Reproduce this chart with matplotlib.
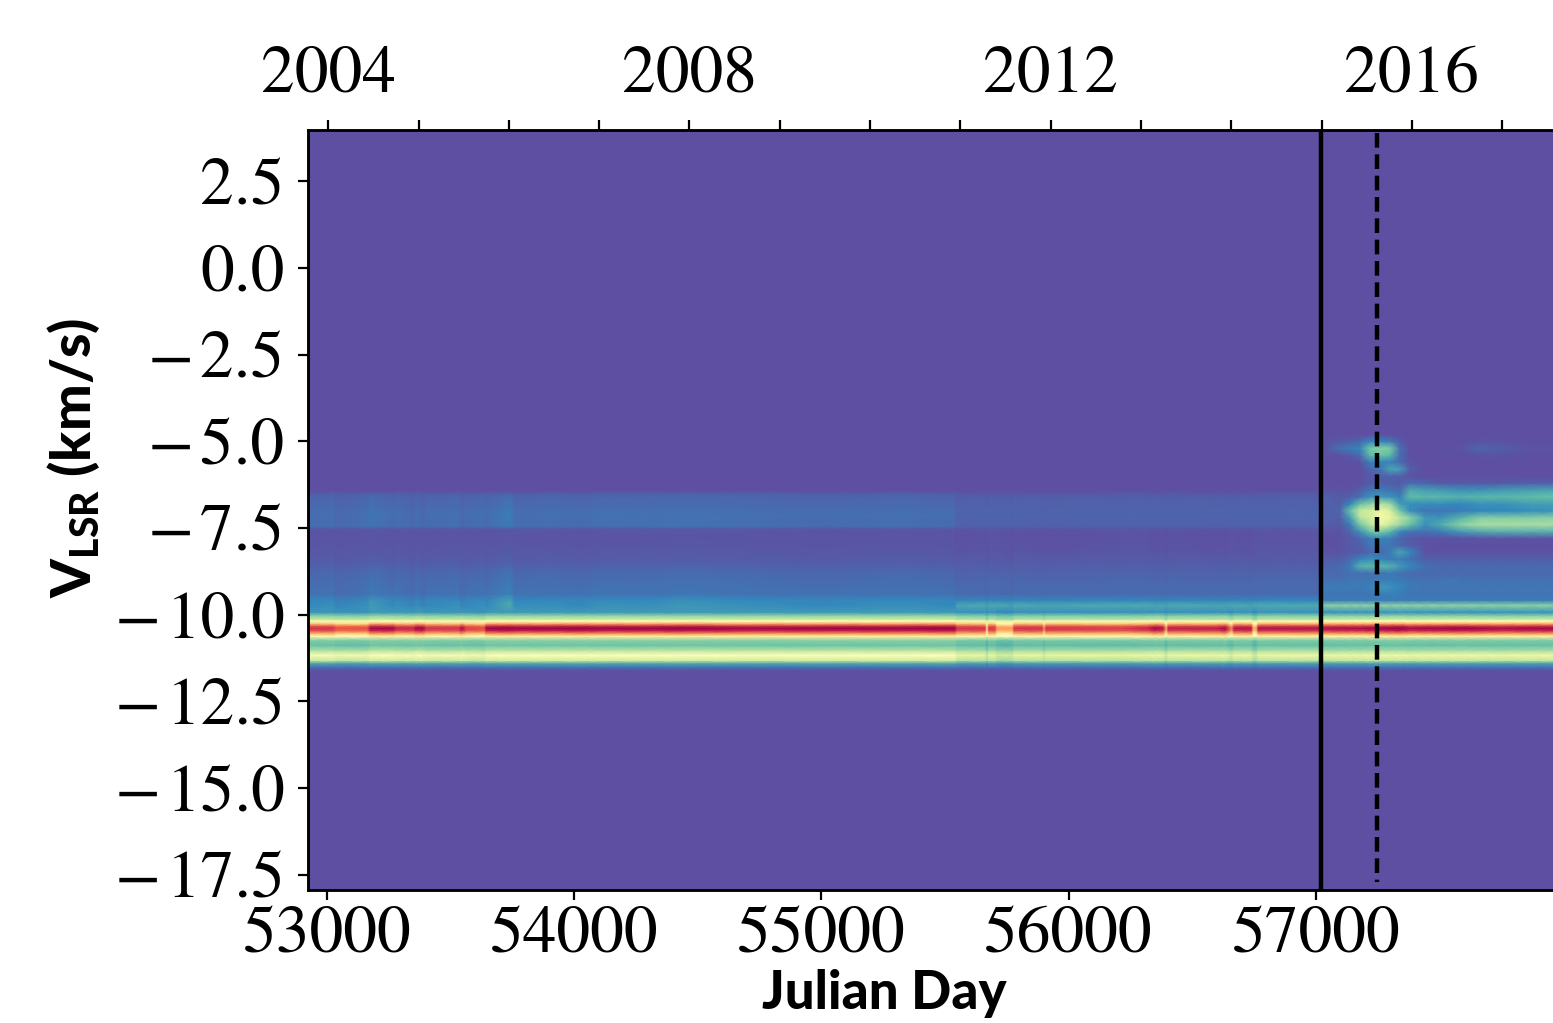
import matplotlib
matplotlib.use("Agg")
import matplotlib.pyplot as plt
import numpy as np

plt.rcParams['font.family'] = ['STIXGeneral', 'Liberation Serif', 'DejaVu Sans']
plt.rcParams['mathtext.fontset'] = 'custom'
plt.rcParams['mathtext.bf'] = 'Lato:black'
plt.rcParams['mathtext.rm'] = 'Lato:black'

# velocity channels (km/s) and the spectrum in the three periods
velocity = [-18.0, -11.62, -11.52, -11.40, -11.32, -11.17, -11.03, -10.88, -10.74, -10.62,
            -10.55, -10.46, -10.39, -10.33, -10.26, -10.18, -10.13, -10.02, -9.93, -9.73, -9.58, -9.4,
            -9.2, -9.0, -8.72, -8.52, -8.14, -7.71, -7.53, -7.45, -7.13, -6.84,
            -6.64, -6.50, -6.41, 4.0]
spec_early = [0, 0, .06, .16, .36, .49, .33, .21, .25, .55,
              .72, .94, .995, .94, .72, .50, .36, .25, .13, .105, .095, .06,
              .055, .05, .04, .025, .015, .01, .015, .05, .055, .045,
              .04, .025, .0, 0]
spec_mid = [0, 0, .06, .15, .33, .44, .31, .20, .24, .55,
            .72, .94, .995, .94, .72, .50, .34, .24, .12, .16, .10, .05,
            .05, .045, .035, .025, .012, .008, .012, .035, .04, .035,
            .03, .02, .0, 0]
spec_late = [0, 0, .06, .15, .34, .44, .30, .20, .24, .55,
             .72, .94, .995, .94, .72, .50, .36, .24, .12, .26, .08, .07,
             .07, .06, .05, .035, .02, .01, .02, .03, .03, .03,
             .03, .02, .0, 0]

# Julian day of each column before the 2015 flare
epochs = [52924, 53025, 53038, 53163, 53176, 53269, 53281, 53350, 53361, 53390,
          53402, 53535, 53544, 53564, 53636, 53645, 53742, 53760, 53900, 54030,
          54100, 54300, 54429, 54700, 55000, 55318, 55540, 55549, 55662, 55670,
          55678, 55703, 55711, 55772, 55780, 55893, 55901, 55909, 56208, 56318,
          56350, 56383, 56395, 56403, 56597, 56634, 56658, 56670, 56739, 56747,
          56759, 56767, 57025]
peak_level = [.90, .90, .84, .84, .97, .97, .92, .92, .97, .97,
              .90, .90, .97, .88, .85, .98, .99, .98, .98, .99,
              .98, .98, .99, .97, .98, .98, .99, .90, .90, .62,
              .90, .88, .72, .72, .90, .90, .74, .90, .88, .92,
              .97, .94, .70, .93, .93, .97, .75, .95, .95, .70,
              .70, .95, .95]
faint_level = [1, 1.1, .9, 1.1, 1.3, 1, 1.1, .9, 1.1, .9,
               1, 1.1, .9, 1, 1.1, 1, 1.5, 1.05, 1.1, 1,
               1.15, 1.1, 1.2, 1.1, 1, 1.1, 1, .95, 1, .9,
               1, 1, 1, .9, 1, .95, 1, .95, 1, 1,
               .95, 1, .95, 1, .95, .95, 1, 1, .95, 1,
               1, 1, 1]

# columns after the flare
late_epochs = [57025, 57097, 57138, 57178, 57219, 57259, 57300, 57340,
               57380, 57441, 57502, 57583, 57664, 57745, 57866, 57960]
late_peak = [.95, .96, .96, .96, .97, .97, .98, .99,
             .96, .97, .97, .98, .97, .96, .97, .97]

flare_velocity = [-9.4, -9.2, -9.0, -8.8, -8.6, -8.4, -8.2, -8.0, -7.8, -7.6, -7.4, -7.2, -7.0,
                  -6.8, -6.6, -6.4, -6.2, -6.0, -5.8, -5.6, -5.4, -5.2, -5.0, -4.8, -4.5]
flare_rows = [
    [.07, .07, .07, .07, .07, .08, .09, .08, .07, .07, .07, .07, .07, .07, .07, .07],
    [.08, .08, .08, .08, .09, .13, .12, .10, .08, .07, .07, .07, .07, .07, .07, .07],
    [.06, .06, .07, .07, .07, .08, .08, .08, .07, .06, .07, .07, .06, .06, .06, .06],
    [.05, .05, .06, .06, .06, .06, .08, .06, .05, .05, .05, .05, .05, .05, .05, .05],
    [.04, .05, .08, .17, .18, .18, .17, .13, .10, .06, .05, .05, .05, .05, .05, .05],
    [.03, .03, .05, .10, .12, .10, .08, .08, .06, .03, .03, .03, .03, .03, .03, .03],
    [.01, .01, .02, .02, .05, .05, .08, .15, .10, .01, .01, .01, .01, .01, .01, .01],
    [.00, .01, .02, .03, .07, .07, .07, .05, .03, .01, .00, .00, .00, .00, .00, .00],
    [.00, .01, .02, .04, .08, .10, .08, .04, .02, .01, .01, .01, .01, .01, .01, .01],
    [.01, .01, .04, .12, .20, .24, .18, .10, .07, .06, .08, .13, .16, .17, .17, .17],
    [.03, .02, .08, .22, .32, .42, .35, .28, .20, .12, .16, .25, .30, .30, .30, .30],
    [.03, .03, .14, .32, .37, .45, .41, .33, .26, .13, .12, .17, .24, .24, .24, .25],
    [.03, .04, .20, .35, .37, .43, .38, .22, .11, .07, .07, .08, .10, .10, .11, .12],
    [.03, .03, .10, .20, .25, .32, .28, .13, .11, .11, .11, .10, .12, .12, .14, .14],
    [.04, .02, .03, .06, .12, .13, .12, .09, .19, .18, .18, .17, .18, .18, .19, .20],
    [.01, .01, .01, .03, .07, .08, .07, .05, .16, .14, .13, .12, .12, .13, .14, .15],
    [.00, .00, .00, .00, .02, .03, .03, .02, .05, .04, .02, .02, .02, .02, .03, .03],
    [.00, .00, .00, .00, .02, .03, .04, .03, .01, .00, .00, .00, .00, .00, .00, .00],
    [.00, .00, .00, .00, .04, .07, .15, .14, .03, .00, .00, .00, .00, .00, .00, .00],
    [.00, .00, .00, .01, .08, .09, .09, .05, .01, .00, .00, .00, .00, .00, .00, .00],
    [.00, .01, .02, .05, .18, .21, .18, .05, .00, .00, .00, .00, .01, .01, .00, .00],
    [.00, .06, .08, .10, .22, .25, .23, .06, .00, .00, .00, .01, .04, .03, .01, .01],
    [.00, .02, .03, .04, .10, .10, .08, .02, .00, .00, .00, .00, .01, .01, .00, .00],
    [.00, .00, .00, .00, .00, .00, .00, .00, .00, .00, .00, .00, .00, .00, .00, .00],
    [.00, .00, .00, .00, .00, .00, .00, .00, .00, .00, .00, .00, .00, .00, .00, .00],
]

jd_ticks = [53000, 54000, 55000, 56000, 57000]
year_ticks = [53005, 53371, 53736, 54101, 54466, 54832, 55197, 55562,
              55927, 56293, 56658, 57023, 57388, 57754]
year_labels = ['2004', '', '', '', '2008', '', '', '', '2012', '', '', '', '2016', '']
v_ticks = [2.5, 0.0, -2.5, -5.0, -7.5, -10.0, -12.5, -15.0, -17.5]
flare_start = 57020
maser_date = 57247

W, H = 1553, 1023
fig = plt.figure(figsize=(W / 100, H / 100), dpi=100)
ax = fig.add_axes([308 / W, 1 - 890 / H, (W - 308) / W, 760 / H])

vel = np.array(velocity)
peak_rows = np.abs(vel + 10.4) < 0.2
bright = vel < -9.9

# spectrum of each column before the flare
image = np.zeros((len(vel), len(epochs)))
for i, day in enumerate(epochs):
    spec = np.array(spec_early if day < 55545 else spec_mid)
    gain = peak_level[i] / 0.98
    column = spec * faint_level[i]
    column[bright] = spec[bright] * np.sqrt(gain)
    column[peak_rows] = spec[peak_rows] * gain
    image[:, i] = column

# after the flare: bright maser channels, with the measured block above them
low = vel <= -9.4
late_image = np.outer(np.array(spec_late)[low], np.array(late_peak) / 0.98)
late_image[-1, :] = np.array(flare_rows[0])

mesh_opts = dict(cmap='Spectral_r', vmin=0, vmax=1, shading='gouraud', rasterized=True)
ax.pcolormesh(epochs, vel, image, **mesh_opts)
ax.pcolormesh(late_epochs, vel[low], late_image, **mesh_opts)
ax.pcolormesh(late_epochs, flare_velocity, np.array(flare_rows), **mesh_opts)
ax.pcolormesh(late_epochs, [-4.5, 4.0], np.zeros((2, len(late_epochs))), **mesh_opts)

ax.axvline(flare_start, color='k', lw=3.2)
ax.vlines(maser_date, 3.9, -17.72, color='k', lw=3.2, linestyles=(0, (3.3, 1.5)))

ax.set_xlim(52924, 57959)
ax.set_ylim(-17.94, 3.98)
ax.set_xticks(jd_ticks)
ax.set_xticklabels([str(j) for j in jd_ticks])
ax.set_yticks(v_ticks)
ax.set_yticklabels([('\u2212\u200a%.1f' % abs(v)) if v < 0 else '%.1f' % v for v in v_ticks])
ax.tick_params(axis='x', labelsize=48.5, length=7, width=1.6, pad=5)
ax.tick_params(axis='y', labelsize=48.5, length=7, width=1.6, pad=10)

top = ax.twiny()
top.set_xlim(ax.get_xlim())
top.set_xticks(year_ticks)
top.set_xticklabels(year_labels)
top.tick_params(axis='x', labelsize=48.5, length=7, width=1.6, pad=10)

for a in (ax, top):
    a.spines['right'].set_visible(False)
    for s in ('left', 'top', 'bottom'):
        a.spines[s].set_linewidth(1.8)

fig.text(884 / W, 1 - 993 / H, 'Julian Day', family='Lato', weight='black', fontsize=38,
         ha='center', va='center')
fig.text(74 / W, 1 - 458 / H, r'$\mathbf{V_{LSR}}$ (km/s)', family='Lato', weight='black',
         fontsize=40, rotation=90, ha='center', va='center')

plt.savefig('out.png', dpi=100)
